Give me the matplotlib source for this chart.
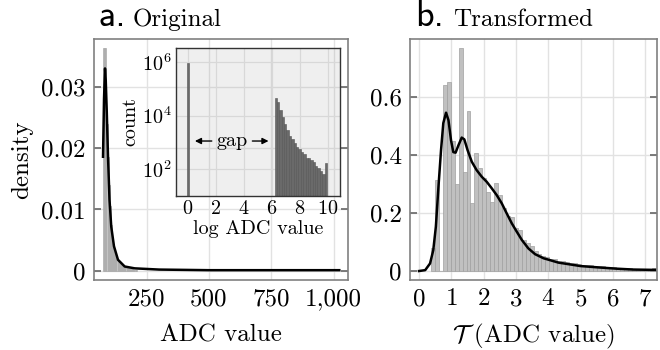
import numpy as np
import matplotlib.pyplot as plt

plt.rcParams['font.family'] = 'cmr10'
plt.rcParams['mathtext.fontset'] = 'cm'
plt.rcParams['axes.formatter.use_mathtext'] = True
plt.rcParams['axes.unicode_minus'] = False

# a. original ADC values (density histogram + kde)
adc_bin_start = 75
adc_bin_width = 4.5
adc_density = [0.0363, 0.0363, 0.0363, 0.024, 0.0186, 0.014, 0.0105, 0.0075,
               0.0055, 0.0042, 0.0032, 0.0025, 0.002, 0.0016, 0.0013, 0.0011,
               0.0009, 0.0008, 0.0007, 0.0006, 0.0005, 0.0005, 0.0004, 0.0004,
               0.0003, 0.0003, 0.0003, 0.0002, 0.0002, 0.0002]
adc_kde_x = [75, 79, 83, 86, 90, 95, 101, 108, 119, 135, 162, 202, 300, 500, 750, 1023]
adc_kde_y = [0.0186, 0.028, 0.033, 0.031, 0.026, 0.0186, 0.0116, 0.0072, 0.004,
             0.0018, 0.0007, 0.0004, 0.0002, 0.0001, 0.0001, 0.0001]
adc_xticks = [250, 500, 750, 1000]
adc_xticklabels = ['250', '500', '750', '1,000']
adc_yticks = [0, 0.01, 0.02, 0.03]
adc_yticklabels = ['0', '0.01', '0.02', '0.03']

# inset: counts of log2 ADC value
log_zero_count = 9.5e5
log_bin_start = 6.18
log_bin_width = 0.17
log_counts = [45700, 30900, 16600, 8900, 4700, 2900, 1800, 1300, 910, 690, 550,
              440, 360, 270, 260, 220, 180, 130, 107, 87, 65, 166]

# b. transformed values
tr_bin_start = 0.37
tr_bin_width = 0.122
tr_density = [0.078, 0.314, 0.0, 0.641, 0.651, 0.45, 0.30, 0.768, 0.34, 0.552,
              0.233, 0.408, 0.356, 0.32, 0.274, 0.239, 0.302, 0.262, 0.216, 0.19,
              0.186, 0.147, 0.141, 0.107, 0.098, 0.087, 0.07, 0.058, 0.052, 0.047,
              0.043, 0.040, 0.036, 0.033, 0.030, 0.028, 0.026, 0.024, 0.022, 0.020,
              0.019, 0.018, 0.017, 0.016, 0.015, 0.014, 0.013, 0.012, 0.011, 0.010,
              0.009, 0.008, 0.008, 0.007, 0.006, 0.006, 0.012]
tr_kde_x = [0, 0.19, 0.34, 0.44, 0.52, 0.60, 0.68, 0.75, 0.835, 0.91, 0.99, 1.06,
            1.13, 1.22, 1.32, 1.40, 1.50, 1.63, 1.78, 1.94, 2.09, 2.25, 2.40, 2.56,
            2.71, 2.87, 3.02, 3.18, 3.38, 3.59, 3.85, 4.31, 5.0, 5.6, 6.12, 6.63,
            7.2, 7.3]
tr_kde_y = [0, 0.003, 0.026, 0.072, 0.153, 0.29, 0.417, 0.51, 0.546, 0.52, 0.45,
            0.41, 0.408, 0.434, 0.46, 0.454, 0.417, 0.377, 0.348, 0.325, 0.308,
            0.285, 0.262, 0.233, 0.199, 0.164, 0.136, 0.107, 0.078, 0.058, 0.044,
            0.029, 0.017, 0.012, 0.008, 0.005, 0.004, 0.004]
tr_xticks = [0, 1, 2, 3, 4, 5, 6, 7]
tr_yticks = [0, 0.2, 0.4, 0.6]
tr_yticklabels = ['0', '0.2', '0.4', '0.6']

W, H = 660, 350
fig = plt.figure(figsize=(6.6, 3.5), dpi=100)


def box(x0, y0, x1, y1):
    return [x0 / W, 1 - y1 / H, (x1 - x0) / W, (y1 - y0) / H]


def style(ax):
    for s in ax.spines.values():
        s.set_color('#808080')
        s.set_linewidth(1.2)
    ax.grid(True, color='#e2e2e2', lw=1)
    ax.set_axisbelow(True)
    ax.tick_params(axis='y', direction='in', length=5, width=1.2, color='#666666',
                   right=True, labelsize=18, pad=6)
    ax.tick_params(axis='x', length=0, labelsize=18, pad=6)


ax1 = fig.add_axes(box(94, 39, 348, 280))
style(ax1)
edges = adc_bin_start + adc_bin_width * np.arange(len(adc_density))
ax1.bar(edges, adc_density, width=adc_bin_width, align='edge',
        color='#c4c4c4', edgecolor='#a8a8a8', lw=0.5)
ax1.plot(adc_kde_x, adc_kde_y, color='black', lw=1.8)
ax1.set_xlim(38.8, 1058)
ax1.set_ylim(-0.0015, 0.0378)
ax1.set_xticks(adc_xticks, adc_xticklabels)
ax1.set_yticks(adc_yticks, adc_yticklabels)
ax1.set_xlabel('ADC value', fontsize=18, labelpad=10)
ax1.set_ylabel('density', fontsize=18, labelpad=6)

# inset
axi = fig.add_axes(box(176, 48, 340, 196))
axi.set_facecolor((0.5, 0.5, 0.5, 0.12))
for s in axi.spines.values():
    s.set_color('#333333')
    s.set_linewidth(1)
axi.grid(True, color='#d8d8d8', lw=0.9)
axi.set_axisbelow(True)
axi.set_yscale('log')
ledges = log_bin_start + log_bin_width * np.arange(len(log_counts))
axi.bar([-0.06], [log_zero_count], width=0.12, align='edge',
        color='#6a6a6a', edgecolor='#555555', lw=0.4)
axi.bar(ledges, log_counts, width=log_bin_width, align='edge',
        color='#6a6a6a', edgecolor='#555555', lw=0.4)
axi.set_xlim(-0.85, 10.85)
axi.set_ylim(10, 3.3e6)
axi.set_xticks([0, 2, 4, 6, 8, 10])
axi.set_yticks([1e2, 1e4, 1e6])
axi.minorticks_off()
axi.tick_params(length=0, labelsize=14.5, pad=3)
axi.set_xlabel('log ADC value', fontsize=14.5, labelpad=1)
axi.set_ylabel('count', fontsize=14.5, labelpad=2)
yg = 10 ** 3.05
axi.text(3.15, yg, 'gap', fontsize=14.5, ha='center', va='center')
axi.annotate('', xy=(0.3, yg), xytext=(1.9, yg),
             arrowprops=dict(arrowstyle='-|>', color='black', lw=1, mutation_scale=9))
axi.annotate('', xy=(5.95, yg), xytext=(4.4, yg),
             arrowprops=dict(arrowstyle='-|>', color='black', lw=1, mutation_scale=9))

ax2 = fig.add_axes(box(410, 39, 657, 280))
style(ax2)
tedges = tr_bin_start + tr_bin_width * np.arange(len(tr_density))
ax2.bar(tedges, tr_density, width=tr_bin_width, align='edge',
        color='#c0c0c0', edgecolor='#a0a0a0', lw=0.5)
ax2.plot(tr_kde_x, tr_kde_y, color='black', lw=1.8)
ax2.set_xlim(-0.28, 7.36)
ax2.set_ylim(-0.031, 0.8)
ax2.set_xticks(tr_xticks)
ax2.set_yticks(tr_yticks, tr_yticklabels)
ax2.set_xlabel(r'$\mathcal{T}$ (ADC value)', fontsize=18, labelpad=8)

# panel titles
fig.text(99 / W, 1 - 26 / H, 'a.', fontsize=26, family='cmss10', va='baseline')
fig.text(133 / W, 1 - 26 / H, 'Original', fontsize=18, va='baseline')
fig.text(415 / W, 1 - 26 / H, 'b.', fontsize=26, family='cmss10', va='baseline')
fig.text(453 / W, 1 - 26 / H, 'Transformed', fontsize=18, va='baseline')

fig.savefig('out.png', dpi=100)
